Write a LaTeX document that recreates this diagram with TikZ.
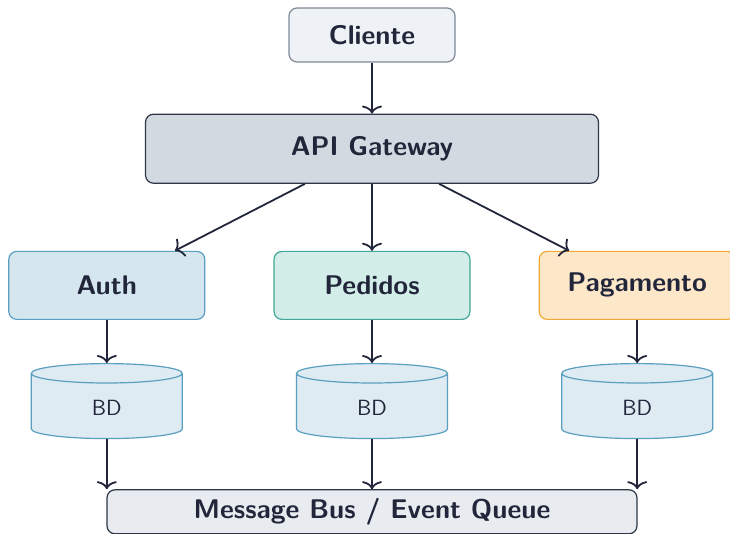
\documentclass[tikz,border=0pt]{standalone}
\usepackage{xcolor}
\usetikzlibrary{arrows.meta, positioning, shapes.geometric}

\definecolor{inkdark}{HTML}{22263A}
\definecolor{cliFill}{HTML}{EEF1F5}
\definecolor{cliLine}{HTML}{7D8896}
\definecolor{gwFill}{HTML}{D3D9E0}
\definecolor{gwLine}{HTML}{2E3748}
\definecolor{authFill}{HTML}{D5E6EF}
\definecolor{authLine}{HTML}{5B9FC0}
\definecolor{pedFill}{HTML}{D3EDE8}
\definecolor{pedLine}{HTML}{42A898}
\definecolor{pagFill}{HTML}{FDE7C9}
\definecolor{pagLine}{HTML}{F1A935}
\definecolor{dbFill}{HTML}{DEEBF3}
\definecolor{busFill}{HTML}{E8EBEF}

\begin{document}
\begin{tikzpicture}[x=0.5pt, y=-0.5pt, node distance=34pt and 34pt]
  \tikzset{
    box/.style={rectangle, rounded corners=4pt, line width=0.6pt,
                text=inkdark, align=center,
                font=\fontsize{13.5}{16}\selectfont\sffamily\bfseries},
    cnode/.style={box, draw=cliLine, fill=cliFill,
                  minimum width=83pt, minimum height=27pt},
    gnode/.style={box, draw=gwLine, fill=gwFill,
                  minimum width=226.5pt, minimum height=34.5pt},
    snode/.style={box, minimum width=98pt, minimum height=34pt},
    dbnode/.style={cylinder, shape border rotate=90, aspect=0.45,
                   draw=authLine, fill=dbFill, line width=0.6pt,
                   minimum width=75.5pt, minimum height=37.5pt,
                   text=inkdark, font=\fontsize{11}{13}\selectfont\sffamily},
    bnode/.style={box, draw=gwLine, fill=busFill,
                  minimum width=265pt, minimum height=22pt},
    arr/.style={-{To[width=10pt,length=4pt]}, line width=0.9pt, draw=inkdark}
  }
  \useasboundingbox (0,0) rectangle (730,534);
  % Client and gateway
  \node[cnode] (cli) at (372,35) {Cliente};
  \node[gnode, below=25.5pt of cli] (api) {API Gateway};
  % Services
  \node[snode, draw=pedLine, fill=pedFill, below=33.5pt of api] (ped) {Pedidos};
  \node[snode, draw=authLine, fill=authFill, left=of ped]      (auth) {Auth};
  \node[snode, draw=pagLine, fill=pagFill, right=of ped]       (pag)  {Pagamento};
  % Databases
  \node[dbnode, below=21.5pt of auth] (dbauth) {BD};
  \node[dbnode, below=21.5pt of ped]  (dbped)  {BD};
  \node[dbnode, below=21.5pt of pag]  (dbpag)  {BD};
  % Bus
  \node[bnode, below=25pt of dbped] (bus) {Message Bus / Event Queue};
  % Arrows
  \draw[arr] (cli) -- (api);
  \draw[arr] ([xshift=-33.5pt]api.south) -- ([xshift=34pt]auth.north);
  \draw[arr] (api) -- (ped);
  \draw[arr] ([xshift=33.5pt]api.south) -- ([xshift=-34pt]pag.north);
  \foreach \s/\d in {auth/dbauth,ped/dbped,pag/dbpag}
    \draw[arr] (\s) -- (\d);
  \foreach \d in {dbauth,dbped,dbpag}
    \draw[arr] (\d.south) -- (bus.north -| \d.south);
\end{tikzpicture}
\end{document}
